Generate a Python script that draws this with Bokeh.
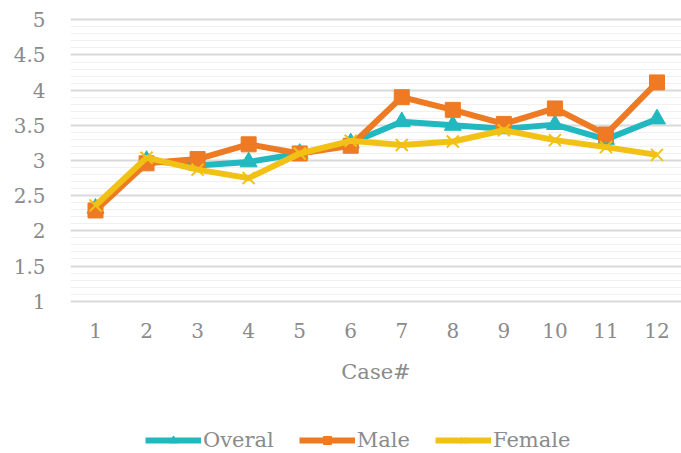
from bokeh.plotting import figure
from bokeh.models import FixedTicker, Range1d, Legend, LegendItem
from bokeh.layouts import column
from bokeh.embed import file_html
from bokeh.resources import INLINE

cases = [1, 2, 3, 4, 5, 6, 7, 8, 9, 10, 11, 12]
overal = [2.32, 3.00, 2.93, 2.98, 3.10, 3.25, 3.55, 3.50, 3.45, 3.51, 3.30, 3.59]
male = [2.29, 2.96, 3.02, 3.23, 3.10, 3.21, 3.90, 3.72, 3.52, 3.74, 3.37, 4.11]
female = [2.36, 3.04, 2.87, 2.75, 3.10, 3.28, 3.22, 3.27, 3.43, 3.29, 3.19, 3.08]
series_names = ["Overal", "Male", "Female"]
y_ticks = [1, 1.5, 2, 2.5, 3, 3.5, 4, 4.5, 5]
y_tick_labels = ["1", "1.5", "2", "2.5", "3", "3.5", "4", "4.5", "5"]
y_minor = [round(1 + 0.1 * i, 1) for i in range(41)]

TEAL = "#21B8C0"
ORANGE = "#EE7A24"
YELLOW = "#F2C115"
TXT = "#8b8b8b"
FONT = "DejaVu Serif"

p = figure(width=681, height=386, output_backend="svg", toolbar_location=None,
           x_range=Range1d(0.51, 12.48), y_range=Range1d(0.939, 5.061),
           min_border_left=70, min_border_right=0, min_border_top=15,
           min_border_bottom=0)
p.outline_line_color = None
p.background_fill_color = "white"
p.border_fill_color = "white"

p.xgrid.grid_line_color = None
p.ygrid.grid_line_color = "#d9d9d9"
p.ygrid.grid_line_width = 2
p.ygrid.minor_grid_line_color = "#f0f0f0"
p.ygrid.minor_grid_line_width = 1

p.yaxis.ticker = FixedTicker(ticks=y_ticks, minor_ticks=y_minor)
p.yaxis.major_label_overrides = {t: l for t, l in zip(y_ticks, y_tick_labels)}
p.xaxis.ticker = FixedTicker(ticks=cases, minor_ticks=[])
p.xaxis.axis_label = "Case#"

for ax in (p.xaxis, p.yaxis):
    ax.axis_line_color = None
    ax.major_tick_line_color = None
    ax.minor_tick_line_color = None
    ax.major_tick_out = 0
    ax.minor_tick_out = 0
    ax.major_label_text_color = TXT
    ax.major_label_text_font = FONT
    ax.major_label_text_font_size = "20px"
p.yaxis.major_label_standoff = 25
p.xaxis.major_label_standoff = 17
p.xaxis.axis_label_text_font = FONT
p.xaxis.axis_label_text_font_size = "21px"
p.xaxis.axis_label_text_font_style = "normal"
p.xaxis.axis_label_text_color = TXT
p.xaxis.axis_label_standoff = 19


def draw(fig):
    lo = fig.line(cases, overal, line_color=TEAL, line_width=6)
    so = fig.scatter(cases, overal, marker="triangle", size=17, fill_color=TEAL, line_color=TEAL)
    lm = fig.line(cases, male, line_color=ORANGE, line_width=6)
    sm = fig.scatter(cases, male, marker="square", size=15, fill_color=ORANGE, line_color=ORANGE)
    lf = fig.line(cases, female, line_color=YELLOW, line_width=6)
    sf = fig.scatter(cases, female, marker="x", size=17, line_color=YELLOW, line_width=2)
    return [[lo, so], [lm, sm], [lf, sf]]


draw(p)

# legend strip below the chart (its renderers lie outside its own visible range)
q = figure(width=681, height=67, output_backend="svg", toolbar_location=None,
           x_range=Range1d(100, 101), y_range=Range1d(100, 101),
           min_border_left=0, min_border_right=0, min_border_top=0,
           min_border_bottom=0)
q.axis.visible = False
q.grid.visible = False
q.outline_line_color = None
q.border_fill_color = "white"
rs = draw(q)

legend = Legend(items=[LegendItem(label=n, renderers=r) for n, r in zip(series_names, rs)],
                orientation="horizontal", location=(75, 1),
                label_text_font=FONT, label_text_font_size="21px", label_text_color=TXT,
                glyph_width=56, glyph_height=20, spacing=25, label_standoff=2,
                border_line_color=None, background_fill_alpha=0, padding=2, margin=0)
q.add_layout(legend, "center")

layout = column(p, q, spacing=0)
open("out.html", "w").write(file_html(layout, INLINE))
